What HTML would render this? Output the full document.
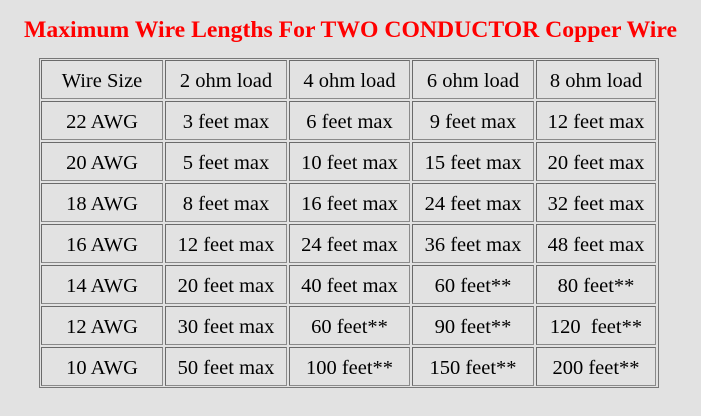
<!DOCTYPE html>
<html><head><style>
body{margin:0;width:701px;height:416px;background:#e2e2e2;font-family:"Liberation Serif",serif;position:relative;overflow:hidden}
h1{position:absolute;top:15px;left:0;width:701px;margin:0;text-align:center;color:#ff0000;font-size:23.7px;font-weight:bold;line-height:30px}
.c{position:absolute;box-sizing:border-box;border:1px solid #6a6a6a;border-right-color:#8a8a8a;border-bottom-color:#8a8a8a;display:flex;align-items:center;justify-content:center;font-size:20.5px;color:#000;padding-top:3px}
.o{position:absolute;left:39px;top:58px;width:620px;height:330px;box-sizing:border-box;border:1px solid #777}
</style></head><body>
<h1>Maximum Wire Lengths For TWO CONDUCTOR Copper Wire</h1>
<div class="o"></div>
<div id="t"></div>
<script>
var d=[["Wire Size","2 ohm load","4 ohm load","6 ohm load","8 ohm load"],
["22 AWG","3 feet max","6 feet max","9 feet max","12 feet max"],
["20 AWG","5 feet max","10 feet max","15 feet max","20 feet max"],
["18 AWG","8 feet max","16 feet max","24 feet max","32 feet max"],
["16 AWG","12 feet max","24 feet max","36 feet max","48 feet max"],
["14 AWG","20 feet max","40 feet max","60 feet**","80 feet**"],
["12 AWG","30 feet max","60 feet**","90 feet**","120&nbsp; feet**"],
["10 AWG","50 feet max","100 feet**","150 feet**","200 feet**"]];
var xs=[41,165,289,412,536,658],h="";
for(var r=0;r<8;r++)for(var c=0;c<5;c++){var y=60+r*41;
h+='<div class="c" style="left:'+xs[c]+'px;top:'+y+'px;width:'+(xs[c+1]-xs[c]-2)+'px;height:39px">'+d[r][c]+'</div>';}
document.getElementById('t').innerHTML=h;
</script>
</body></html>
